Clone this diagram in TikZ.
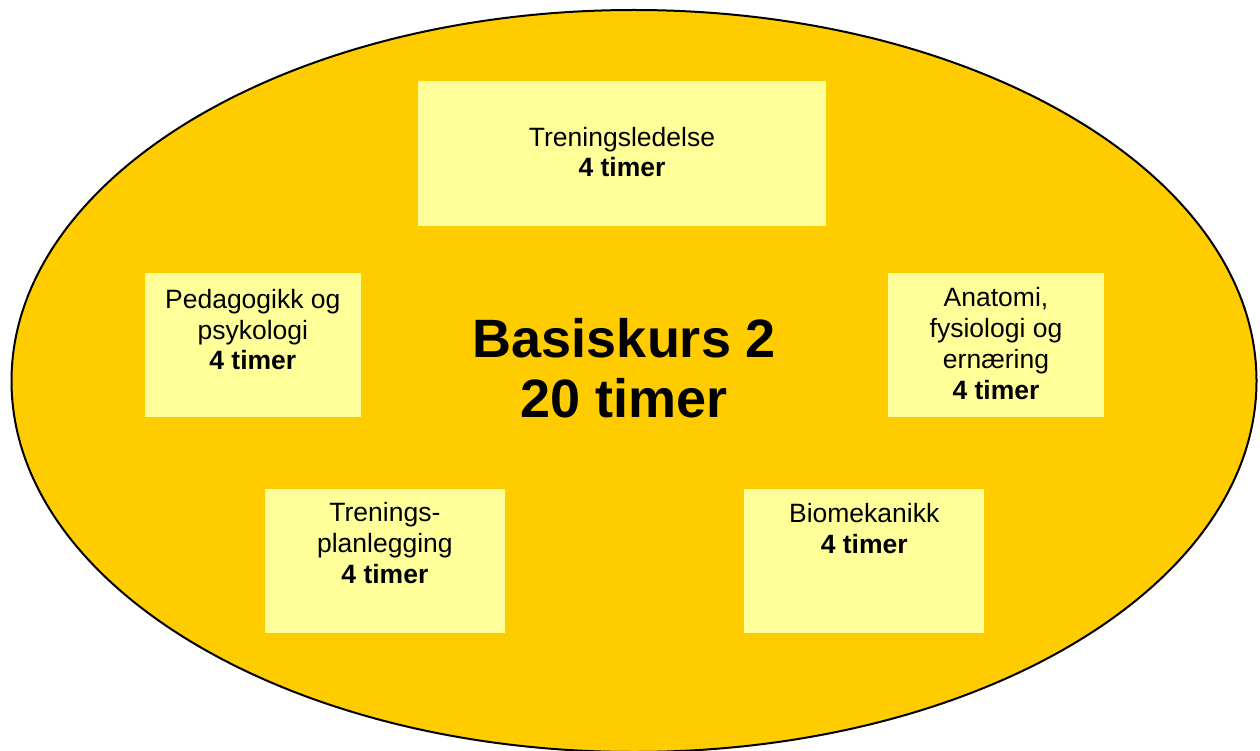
\documentclass[tikz,border=0pt]{standalone}
\usepackage{fontspec}
\setmainfont{Liberation Sans}
\definecolor{outerfill}{HTML}{FFCC00}
\definecolor{boxfill}{HTML}{FFFF99}
\begin{document}
\begin{tikzpicture}[x=1pt,y=-1pt,
  topicbox/.style={fill=boxfill, draw=none, inner sep=0pt, anchor=center},
  topictext/.style={anchor=north, inner sep=0pt, align=center, text=black,
    font=\fontsize{26.5}{30.7}\selectfont},
  maintext/.style={anchor=north, inner sep=0pt, align=center, text=black,
    font=\fontsize{54}{60}\selectfont\bfseries}]
\useasboundingbox (0,0) rectangle (1260,751);
\clip (0,0) rectangle (1260,751);
\draw[fill=outerfill, draw=black, line width=2pt] (634,381) ellipse [x radius=622.5, y radius=371];

\node[topicbox, minimum width=408pt, minimum height=145pt] (b1) at (622,153.5) {};
\node[topicbox, minimum width=215.6pt, minimum height=143.4pt] (b2) at (252.8,345) {};
\node[topicbox, minimum width=216pt, minimum height=144pt] (b3) at (996,345) {};
\node[topicbox, minimum width=239.2pt, minimum height=143.4pt] (b4) at (384.9,561) {};
\node[topicbox, minimum width=240.5pt, minimum height=143.4pt] (b5) at (864.2,561) {};

\node[topictext] (t1) at ([yshift=-46pt]b1.north) {Treningsledelse\\\textbf{4 timer}};
\node[topictext] (t2) at ([yshift=-16pt]b2.north) {Pedagogikk og\\psykologi\\\textbf{4 timer}};
\node[topictext] (t3) at ([yshift=-14.7pt]b3.north) {Anatomi,\\fysiologi og\\ernæring\\\textbf{4 timer}};
\node[topictext] (t4) at ([yshift=-13.4pt]b4.north) {Trenings-\\planlegging\\\textbf{4 timer}};
\node[topictext] (t5) at ([yshift=-14.4pt]b5.north) {Biomekanikk\\\textbf{4 timer}};

\node[maintext] (main) at (624.5,318) {Basiskurs 2\\20 timer};
\end{tikzpicture}
\end{document}
